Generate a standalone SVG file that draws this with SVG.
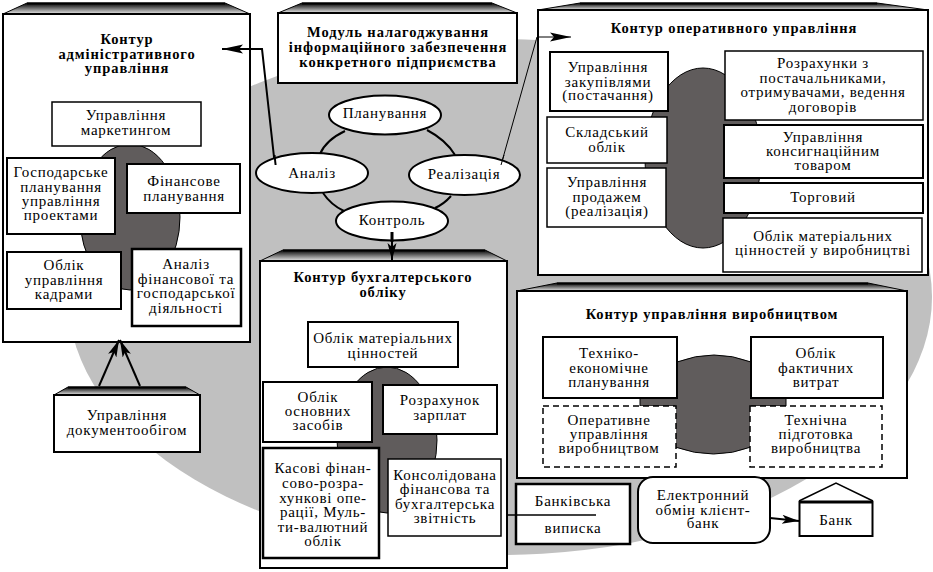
<svg xmlns="http://www.w3.org/2000/svg" width="933" height="572" viewBox="0 0 933 572">
<style>
text{font-family:"Liberation Serif","Times New Roman",serif;font-size:15px;fill:#000;text-anchor:middle;letter-spacing:.75px}
.t{font-weight:bold;font-size:14.5px;letter-spacing:.9px}
.b{fill:#fff;stroke:#000;stroke-width:2}
.n{fill:#fff;stroke:#000;stroke-width:1.5}
.h{fill:#fff;stroke:#000;stroke-width:2.500}
.d{fill:#fff;stroke:#000;stroke-width:1.5;stroke-dasharray:6 4}
.blob{fill:#605c5c;stroke:#000;stroke-width:1}
.e{fill:#fff;stroke:#000;stroke-width:2}
.top{fill:url(#g);stroke:#000;stroke-width:1}
.c{fill:none;stroke:#000;stroke-width:2}
</style>
<defs>
<linearGradient id="g" x1="0" y1="0" x2="0" y2="1"><stop offset="0" stop-color="#000"/><stop offset="1" stop-color="#e8e8e8"/></linearGradient>
<marker id="a" markerUnits="userSpaceOnUse" markerWidth="22" markerHeight="14" refX="21" refY="7" orient="auto"><path d="M21 7L0 2.500L4 7L0 11.500Z" fill="#000"/></marker>
<marker id="s" markerUnits="userSpaceOnUse" markerWidth="18" markerHeight="14" refX="17" refY="7" orient="auto"><path d="M17 7L0 2.500L4 7L0 11.500Z" fill="#000"/></marker>
</defs>
<ellipse id="background" cx="500" cy="297" rx="432" ry="258" fill="#c0c0c0"/>

<g id="kontur-admin">
<path class="top" d="M3 14L27 3H225L250 14Z"/><path d="M27 3.500H225" stroke="#000" stroke-width="2"/>
<rect class="b" x="3" y="14" width="247" height="328"/>
<ellipse class="blob" cx="130" cy="217" rx="50" ry="73"/>
<text class="t"><tspan x="127" y="44">Контур</tspan><tspan x="127" y="59">адміністративного</tspan><tspan x="127" y="73">управління</tspan></text>
</g>
<g id="marketing"><rect class="n" x="52" y="102" width="149" height="44"/><text><tspan x="126" y="120">Управління</tspan><tspan x="126" y="135">маркетингом</tspan></text></g>
<g id="gosp"><rect class="b" x="7" y="158" width="108" height="76"/><text><tspan x="61" y="177">Господарське</tspan><tspan x="61" y="191.500">планування</tspan><tspan x="61" y="206">управління</tspan><tspan x="61" y="220">проектами</tspan></text></g>
<g id="fin-plan"><rect class="b" x="127" y="164" width="113" height="49"/><text><tspan x="184" y="186">Фінансове</tspan><tspan x="184" y="201">планування</tspan></text></g>
<g id="kadry"><rect class="b" x="7" y="252" width="114" height="57"/><text><tspan x="64" y="270">Облік</tspan><tspan x="64" y="285">управління</tspan><tspan x="64" y="299">кадрами</tspan></text></g>
<g id="analiz-fin"><rect class="h" x="132" y="249" width="109" height="77"/><text><tspan x="186" y="269">Аналіз</tspan><tspan x="186" y="284">фінансової та</tspan><tspan x="186" y="298">господарської</tspan><tspan x="186" y="313">діяльності</tspan></text></g>

<g id="docs">
<path class="top" d="M54 395L68 387H186L200 395Z"/><path d="M68 387.500H186" stroke="#000" stroke-width="2"/>
<rect class="b" x="54" y="395" width="146" height="57"/>
<text><tspan x="127" y="420">Управління</tspan><tspan x="127" y="435">документообігом</tspan></text>
</g>

<g id="module">
<path class="top" d="M278 13L302 3H492L517 13Z"/><path d="M302 3.500H492" stroke="#000" stroke-width="2"/>
<rect class="b" x="278" y="13" width="239" height="70"/>
<text class="t"><tspan x="398" y="37">Модуль налагоджування</tspan><tspan x="398" y="52">інформаційного забезпечення</tspan><tspan x="398" y="67">конкретного підприємства</tspan></text>
</g>

<g id="kontur-oper">
<path class="top" d="M538 10L580 3H877L928 10Z"/><path d="M580 3.500H877" stroke="#000" stroke-width="2"/>
<rect class="b" x="538" y="10" width="390" height="265"/>
<ellipse class="blob" cx="703" cy="158" rx="58" ry="90"/>
<text class="t" x="734" y="33">Контур оперативного управління</text>
</g>
<g id="zakup"><rect class="b" x="550" y="52" width="118" height="59"/><text><tspan x="608" y="72">Управління</tspan><tspan x="608" y="86.500">закупівлями</tspan><tspan x="608" y="100">(постачання)</tspan></text></g>
<g id="sklad"><rect class="n" x="547" y="117" width="120" height="46"/><text><tspan x="607" y="137">Складський</tspan><tspan x="607" y="152">облік</tspan></text></g>
<g id="prodazh"><rect class="n" x="547" y="168" width="119" height="59"/><text><tspan x="607" y="187">Управління</tspan><tspan x="607" y="202">продажем</tspan><tspan x="607" y="216">(реалізація)</tspan></text></g>
<g id="rozrah"><rect class="n" x="725" y="51" width="198" height="69"/><text><tspan x="823" y="68">Розрахунки з</tspan><tspan x="823" y="83">постачальниками,</tspan><tspan x="823" y="97">отримувачами, ведення</tspan><tspan x="823" y="112">договорів</tspan></text></g>
<g id="konsig"><rect class="b" x="724" y="125" width="199" height="53"/><text><tspan x="823" y="142">Управління</tspan><tspan x="823" y="156">консигнаційним</tspan><tspan x="823" y="170">товаром</tspan></text></g>
<g id="torg"><rect class="b" x="724" y="183" width="199" height="30"/><text x="823" y="202">Торговий</text></g>
<g id="mat-vyr"><rect class="n" x="723" y="218" width="199" height="54"/><text><tspan x="823" y="241">Облік матеріальних</tspan><tspan x="823" y="255">цінностей у виробництві</tspan></text></g>

<g id="kontur-vyr">
<path class="top" d="M517 291L557 283H868L907 291Z"/><path d="M557 283.500H868" stroke="#000" stroke-width="2"/>
<rect class="b" x="517" y="291" width="390" height="187"/>
<path class="blob" d="M677 362Q714 348 751 362V398H786V406H751V447Q714 461 675 447V406H640V398H677Z"/>
<text class="t" x="712" y="319">Контур управління виробництвом</text>
</g>
<g id="tekhn-ek"><rect class="b" x="543" y="337" width="134" height="61"/><text><tspan x="609" y="358">Техніко-</tspan><tspan x="609" y="373">економічне</tspan><tspan x="609" y="387">планування</tspan></text></g>
<g id="fakt"><rect class="b" x="751" y="337" width="132" height="61"/><text><tspan x="816" y="358">Облік</tspan><tspan x="816" y="373">фактичних</tspan><tspan x="816" y="387">витрат</tspan></text></g>
<g id="oper-vyr"><rect class="d" x="543" y="406" width="133" height="61"/><text><tspan x="609" y="425">Оперативне</tspan><tspan x="609" y="439">управління</tspan><tspan x="609" y="453">виробництвом</tspan></text></g>
<g id="tekhn-pidg"><rect class="d" x="750" y="406" width="132" height="61"/><text><tspan x="816" y="425">Технічна</tspan><tspan x="816" y="439">підготовка</tspan><tspan x="816" y="453">виробництва</tspan></text></g>

<g id="kontur-bukh">
<path class="top" d="M260 261L283 250H485L507 261Z"/><path d="M283 250.500H485" stroke="#000" stroke-width="2"/>
<rect class="b" x="260" y="261" width="247" height="307"/>
<ellipse class="blob" cx="387" cy="440" rx="50" ry="73"/>
<text class="t"><tspan x="383" y="282">Контур бухгалтерського</tspan><tspan x="383" y="297">обліку</tspan></text>
</g>
<g id="mat-cin"><rect class="b" x="308" y="322" width="150" height="45"/><text><tspan x="383" y="343">Облік матеріальних</tspan><tspan x="383" y="358">цінностей</tspan></text></g>
<g id="osn"><rect class="b" x="263" y="382" width="109" height="60"/><text><tspan x="318" y="402">Облік</tspan><tspan x="318" y="416">основних</tspan><tspan x="318" y="430">засобів</tspan></text></g>
<g id="zarp"><rect class="b" x="383" y="385" width="114" height="49"/><text><tspan x="440" y="405">Розрахунок</tspan><tspan x="440" y="420">зарплат</tspan></text></g>
<g id="kasa"><rect class="h" x="263" y="448" width="116" height="110"/><text><tspan x="323" y="473">Касові фінан-</tspan><tspan x="323" y="488">сово-розра-</tspan><tspan x="323" y="503">хункові опе-</tspan><tspan x="323" y="517">рації, Муль-</tspan><tspan x="323" y="532">ти-валютний</tspan><tspan x="323" y="546">облік</tspan></text></g>
<g id="konsol"><rect class="n" x="388" y="459" width="113" height="77"/><text><tspan x="445" y="480">Консолідована</tspan><tspan x="445" y="494">фінансова та</tspan><tspan x="445" y="509">бухгалтерська</tspan><tspan x="445" y="523">звітність</tspan></text></g>

<g id="bank-vyp"><rect class="h" x="516" y="484" width="114" height="60"/><text><tspan x="573" y="506">Банківська</tspan><tspan x="573" y="533">виписка</tspan></text></g>
<g id="el-obmin"><rect class="b" x="638" y="477" width="132" height="66" rx="15"/><text><tspan x="703" y="500">Електронний</tspan><tspan x="703" y="515">обмін клієнт-</tspan><tspan x="703" y="528">банк</tspan></text></g>
<g id="bank"><path d="M799 501L836 483L873 501" fill="#fff" stroke="#000" stroke-width="1.500"/><rect class="b" x="799.500" y="502" width="73" height="34"/><path d="M799 502H873" stroke="#000" stroke-width="3"/><text x="836" y="525">Банк</text></g>

<g id="connectors">
<path class="c" d="M345 131Q326 140 320 154M427 130Q446 140 455 155M323 193Q331 205 344 211M451 196Q444 204 435 208"/>
<path d="M507 515H596" fill="none" stroke="#000" stroke-width="1.500"/>
<path class="c" d="M275 166L262 49H222" marker-end="url(#a)"/>
<path fill="none" stroke="#000" stroke-width="1" d="M501 165L537 37H571" marker-end="url(#a)"/>
<path class="c" d="M392 232V260" marker-end="url(#s)"/>
<path class="c" d="M99 386L119 340" marker-end="url(#s)"/>
<path class="c" d="M140 386L120 340" marker-end="url(#s)"/>
<path class="c" d="M770 518L799 521" marker-end="url(#s)"/>
</g>

<g id="ellipses">
<g id="planuvannya"><ellipse class="e" cx="385" cy="115" rx="56" ry="19.500"/><text x="385" y="118">Планування</text></g>
<g id="analiz"><ellipse class="e" cx="312" cy="173" rx="56" ry="20"/><text x="312" y="178">Аналіз</text></g>
<g id="realizaciya"><ellipse class="e" cx="464.500" cy="175" rx="55.500" ry="20"/><text x="464" y="179">Реалізація</text></g>
<g id="kontrol"><ellipse class="e" cx="392" cy="221" rx="56" ry="19.500"/><text x="392" y="225">Контроль</text></g>
</g>
<g id="connectors-over">
<path d="M274.500 155L275.600 165" stroke="#000" stroke-width="2"/>
<path d="M504 155L501 165" stroke="#000" stroke-width="1"/>
<path d="M392 232V242" stroke="#000" stroke-width="3"/>
</g>
</svg>
